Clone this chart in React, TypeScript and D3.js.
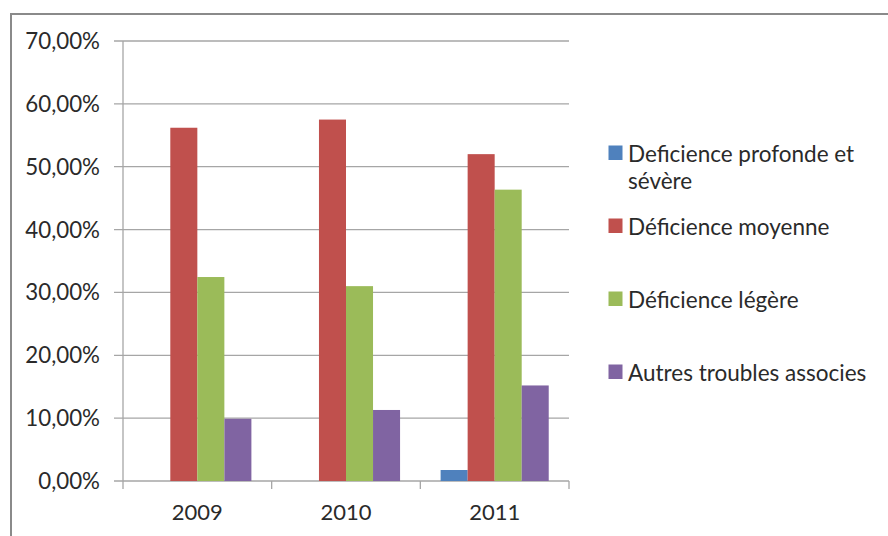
import React from "react";
import * as d3 from "d3";

const categories = ["2009", "2010", "2011"];
const seriesNames = [
  "Deficience profonde et sévère",
  "Déficience moyenne",
  "Déficience légère",
  "Autres troubles associes",
];
const seriesColors = ["#4F81BD", "#C0504D", "#9BBB59", "#8064A2"];
const profonde = [0, 0, 0.0175];
const moyenne = [0.562, 0.575, 0.52];
const legere = [0.3245, 0.31, 0.4635];
const autres = [0.099, 0.113, 0.152];
const yTicks = [0, 0.1, 0.2, 0.3, 0.4, 0.5, 0.6, 0.7];

const W = 888;
const H = 536;
const FONT = "Lato, 'Open Sans', sans-serif";

export default function App() {
  const values = [profonde, moyenne, legere, autres];
  const left = 123;
  const right = 569;
  const top = 41;
  const bottom = 481;

  const x = d3.scaleBand<string>().domain(categories).range([left, right]).paddingInner(0).paddingOuter(0);
  const y = d3.scaleLinear().domain([0, 0.7]).range([bottom, top]);
  const bw = x.bandwidth();
  const barW = bw / 5.5;
  const fmt = (v: number) => d3.format(".2f")(v * 100).replace(".", ",") + "%";

  const legendY = [161.5, 234.5, 307.5, 380.5];
  const legendLines = [["Deficience profonde et", "sévère"], [seriesNames[1]], [seriesNames[2]], [seriesNames[3]]];

  return (
    <svg width={W} height={H} style={{ position: "absolute", left: 0, top: 0 }} fontFamily={FONT}>
      <rect x={0} y={0} width={W} height={H} fill="#fff" />
      <rect x={11} y={14} width={W + 20} height={H + 20} fill="none" stroke="#8a8a8a" strokeWidth={2} />
      {yTicks.map((t) => (
        <g key={t}>
          <line x1={114} x2={right} y1={y(t)} y2={y(t)} stroke="#a6a6a6" strokeWidth={1.3} />
          <text x={100} y={y(t)} dy="0.36em" textAnchor="end" fontSize={22.3} fill="#2a2a2a">
            {fmt(t)}
          </text>
        </g>
      ))}
      <line x1={left} x2={left} y1={top} y2={bottom} stroke="#a6a6a6" strokeWidth={1.3} />
      {[...categories.map((c) => x(c) as number), right].map((px, i) => (
        <line key={i} x1={px} x2={px} y1={bottom} y2={bottom + 8} stroke="#a6a6a6" strokeWidth={1.3} />
      ))}
      {categories.map((c, ci) => {
        const cx = (x(c) as number) + bw / 2;
        return (
          <g key={c}>
            {values.map((vals, si) => {
              const v = vals[ci];
              if (v <= 0) return null;
              const bx = cx - 2 * barW + si * barW;
              return (
                <rect key={si} x={bx} y={y(v)} width={barW} height={y(0) - y(v)} fill={seriesColors[si]} />
              );
            })}
            <text x={cx} y={520} textAnchor="middle" fontSize={22} fill="#2a2a2a">
              {c}
            </text>
          </g>
        );
      })}
      {legendLines.map((lines, i) => (
        <g key={i}>
          <rect x={608.5} y={legendY[i] - 16} width={14} height={14.5} fill={seriesColors[i]} />
          {lines.map((ln, li) => (
            <text key={li} x={628} y={legendY[i] + li * 27} fontSize={22.5} fill="#2a2a2a">
              {ln}
            </text>
          ))}
        </g>
      ))}
    </svg>
  );
}
